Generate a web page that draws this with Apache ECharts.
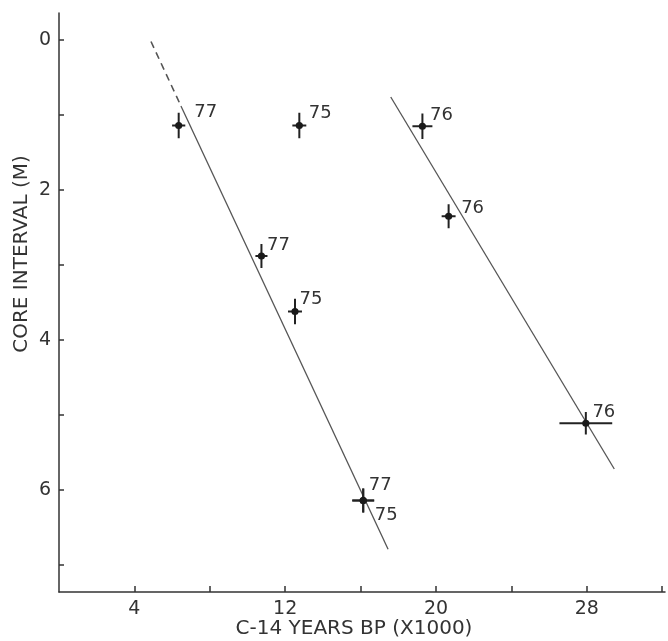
<!DOCTYPE html>
<html>
<head>
<meta charset="utf-8">
<script src="https://cdn.jsdelivr.net/npm/echarts@6/dist/echarts.min.js"></script>
<style>
  html, body { margin: 0; padding: 0; background: #fff; }
  #chart { width: 668px; height: 641px; }
</style>
</head>
<body>
<div id="chart"></div>
<script>
// Radiocarbon ages of core samples against depth in core (cores 75, 76, 77)
const coreIds   = ['77', '75', '77', '75', '77', '75', '76', '76', '76'];
const ageKyr    = [6.35, 12.75, 10.74, 12.52, 16.14, 16.14, 19.28, 20.67, 27.95];
const depthM    = [1.14, 1.14, 2.88, 3.62, 6.14, 6.14, 1.15, 2.35, 5.11];
const ageErr    = [0.35, 0.37, 0.32, 0.37, 0.58, 0.58, 0.53, 0.37, 1.40];
const depthErr  = [0.17, 0.17, 0.16, 0.17, 0.16, 0.16, 0.17, 0.16, 0.15];

// Fitted age–depth lines (extrapolated part of the first one is dashed)
const trendAExtrapolated = [[4.88, 0.02], [6.47, 0.88]];
const trendA = [[6.47, 0.88], [17.46, 6.79]];
const trendB = [[17.6, 0.76], [29.46, 5.72]];

const xTicks = [4, 8, 12, 16, 20, 24, 28, 32];
const xLabels = [4, 12, 20, 28];
const yTicks = [0, 1, 2, 3, 4, 5, 6, 7];
const yLabels = [0, 2, 4, 6];

const xTitle = 'C-14 YEARS BP (X1000)';
const yTitle = 'CORE INTERVAL (M)';

// label placement around each sample marker (pixels)
const labelOffsets = [[27, -13], [21, -12], [17, -11], [16, -12], [17, -15], [23, 15], [19, -11], [24, -8], [18, -11]];

const FONT = '"DejaVu Sans", "Liberation Sans", sans-serif';
const INK = '#333';
const LINE = '#555';

const samples = coreIds.map((id, i) => [ageKyr[i], depthM[i], ageErr[i], depthErr[i], i]);

const chart = echarts.init(document.getElementById('chart'), null, { renderer: 'canvas' });

chart.setOption({
  animation: false,
  backgroundColor: '#fff',
  grid: { left: 59, right: 3, top: 13, bottom: 49, containLabel: false },
  graphic: [
    {
      type: 'text',
      x: 22,
      y: 254,
      rotation: Math.PI / 2,
      style: { text: yTitle, fontFamily: FONT, fontSize: 20, fill: INK, align: 'center', verticalAlign: 'middle' }
    },
    {
      type: 'text',
      x: 354,
      y: 629,
      style: { text: xTitle, fontFamily: FONT, fontSize: 20, fill: INK, align: 'center', verticalAlign: 'middle' }
    }
  ],
  xAxis: {
    type: 'value',
    min: 0,
    max: 32.15,
    axisLine: { show: true, onZero: false, lineStyle: { color: '#333', width: 1.5 } },
    axisTick: { show: true, inside: true, length: 6, customValues: xTicks, lineStyle: { color: '#333', width: 1.5 } },
    axisLabel: { customValues: xLabels, fontFamily: FONT, fontSize: 19, color: INK, margin: 8 },
    splitLine: { show: false }
  },
  yAxis: {
    type: 'value',
    inverse: true,
    min: -0.36,
    max: 7.36,
    axisLine: { show: true, onZero: false, lineStyle: { color: '#333', width: 1.5 } },
    axisTick: { show: true, inside: true, length: 5, customValues: yTicks, lineStyle: { color: '#333', width: 1.5 } },
    axisLabel: { customValues: yLabels, fontFamily: FONT, fontSize: 19, color: INK, margin: 8 },
    splitLine: { show: false }
  },
  series: [
    {
      type: 'line',
      data: trendAExtrapolated,
      symbol: 'none',
      lineStyle: { color: LINE, width: 1.6, type: [7, 5] },
      z: 1
    },
    {
      type: 'line',
      data: trendA,
      symbol: 'none',
      lineStyle: { color: LINE, width: 1.3 },
      z: 1
    },
    {
      type: 'line',
      data: trendB,
      symbol: 'none',
      lineStyle: { color: LINE, width: 1.3 },
      z: 1
    },
    {
      // error crosses, centre dot and core number for each sample
      type: 'custom',
      data: samples,
      z: 3,
      renderItem: function (params, api) {
        const x = api.value(0), y = api.value(1);
        const ex = api.value(2), ey = api.value(3);
        const idx = api.value(4);
        const c = api.coord([x, y]);
        const l = api.coord([x - ex, y]);
        const r = api.coord([x + ex, y]);
        const t = api.coord([x, y - ey]);
        const b = api.coord([x, y + ey]);
        const off = labelOffsets[idx];
        return {
          type: 'group',
          children: [
            { type: 'line', shape: { x1: l[0], y1: l[1], x2: r[0], y2: r[1] }, style: { stroke: '#222', lineWidth: 2 } },
            { type: 'line', shape: { x1: t[0], y1: t[1], x2: b[0], y2: b[1] }, style: { stroke: '#222', lineWidth: 2 } },
            { type: 'circle', shape: { cx: c[0], cy: c[1], r: 3.6 }, style: { fill: '#1a1a1a' } },
            {
              type: 'text',
              x: c[0] + off[0],
              y: c[1] + off[1],
              style: {
                text: coreIds[idx],
                fontFamily: FONT,
                fontSize: 18,
                fill: INK,
                align: 'center',
                verticalAlign: 'middle'
              }
            }
          ]
        };
      }
    }
  ]
});
</script>
</body>
</html>
